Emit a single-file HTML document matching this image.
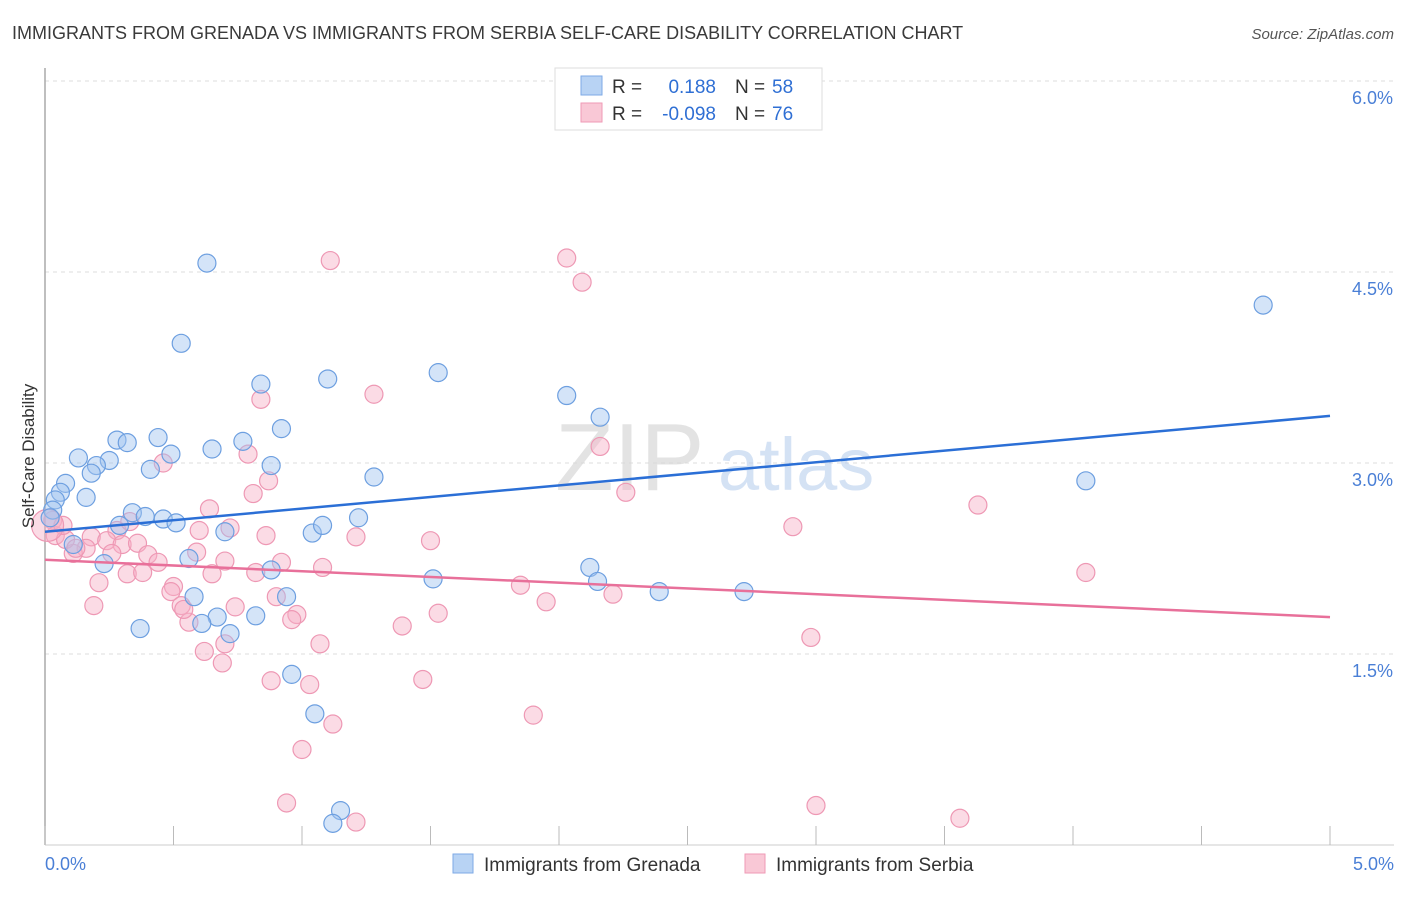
<!DOCTYPE html>
<html><head><meta charset="utf-8"><style>
body{margin:0;background:#fff;font-family:"Liberation Sans",sans-serif;}
svg text{font-family:"Liberation Sans",sans-serif;}
</style></head><body>
<svg id="chart" width="1406" height="892" viewBox="0 0 1406 892" xmlns="http://www.w3.org/2000/svg">
<text x="12" y="39" font-size="18" fill="#3a3a3a">IMMIGRANTS FROM GRENADA VS IMMIGRANTS FROM SERBIA SELF-CARE DISABILITY CORRELATION CHART</text>
<text x="1394" y="39" font-size="15" fill="#555" font-style="italic" text-anchor="end">Source: ZipAtlas.com</text>
<g id="grid"></g>
<g>
<text x="555" y="490" font-size="96" fill="#d8d8d8" font-family="Liberation Serif, serif" opacity="0.7">ZIP</text>
<text x="718" y="490" font-size="74" fill="#b9cfee" opacity="0.6">atlas</text>
</g>
<line x1="45" y1="68" x2="45" y2="845" stroke="#aaa" stroke-width="1.5"/>
<line x1="45" y1="845" x2="1394" y2="845" stroke="#ccc" stroke-width="1"/>
<g id="ticks"></g>
<g id="pts"></g>
<g id="trends"></g>
<text transform="translate(34,456) rotate(-90)" font-size="17" fill="#333" text-anchor="middle">Self-Care Disability</text>
<text x="45" y="870" font-size="18" fill="#4a7fd6">0.0%</text>
<text x="1394" y="870" font-size="18" fill="#4a7fd6" text-anchor="end">5.0%</text>
<g>
<rect x="555" y="68" width="267" height="62" fill="#fff" stroke="#ddd"/>
<rect x="581" y="76" width="21" height="19" fill="#b8d3f4" stroke="#7eaae6"/>
<rect x="581" y="103" width="21" height="19" fill="#f9c8d6" stroke="#ef9ab6"/>
<text x="612" y="93" font-size="19" fill="#333">R =</text>
<text x="716" y="93" font-size="19" fill="#2f6fd4" text-anchor="end">0.188</text>
<text x="735" y="93" font-size="19" fill="#333">N =</text>
<text x="772" y="93" font-size="19" fill="#2f6fd4">58</text>
<text x="612" y="120" font-size="19" fill="#333">R =</text>
<text x="716" y="120" font-size="19" fill="#2f6fd4" text-anchor="end">-0.098</text>
<text x="735" y="120" font-size="19" fill="#333">N =</text>
<text x="772" y="120" font-size="19" fill="#2f6fd4">76</text>
</g>
<g>
<rect x="453" y="854" width="20" height="19" fill="#b8d3f4" stroke="#7eaae6"/>
<text x="484" y="871" font-size="19" fill="#333">Immigrants from Grenada</text>
<rect x="745" y="854" width="20" height="19" fill="#f9c8d6" stroke="#ef9ab6"/>
<text x="776" y="871" font-size="19" fill="#333">Immigrants from Serbia</text>
</g>
</svg>
<script>
const yTicks=[1.5,3.0,4.5,6.0];
const yTickLabels=["1.5%","3.0%","4.5%","6.0%"];
const xTicks=[0,0.5,1,1.5,2,2.5,3,3.5,4,4.5,5];
const blueX=[0.63,0.53,0.84,1.10,1.53,2.03,2.16,4.74,4.05,0.28,0.32,0.44,0.49,0.65,0.77,0.92,0.88,1.28,0.13,0.25,0.20,0.18,0.41,0.08,0.06,0.04,0.16,0.03,0.34,0.39,0.46,0.51,0.29,0.70,1.04,1.08,1.22,0.11,0.23,0.56,0.88,2.12,2.15,1.51,2.39,2.72,0.58,0.94,0.67,0.61,0.72,0.82,0.37,0.96,1.05,1.15,1.12,0.02];
const blueY=[4.57,3.94,3.62,3.66,3.71,3.53,3.36,4.24,2.86,3.18,3.16,3.20,3.07,3.11,3.17,3.27,2.98,2.89,3.04,3.02,2.98,2.92,2.95,2.84,2.77,2.71,2.73,2.63,2.61,2.58,2.56,2.53,2.51,2.46,2.45,2.51,2.57,2.36,2.21,2.25,2.16,2.18,2.07,2.09,1.99,1.99,1.95,1.95,1.79,1.74,1.66,1.80,1.70,1.34,1.03,0.27,0.17,2.57];
const pinkX=[1.11,2.03,2.09,1.28,0.84,2.16,0.79,0.46,0.87,0.81,2.26,3.63,0.64,0.72,2.91,1.21,1.50,0.28,0.18,0.24,0.16,0.11,0.30,0.36,0.40,0.44,0.26,0.59,0.70,0.92,1.08,0.65,0.32,0.38,0.82,0.21,0.50,0.49,1.85,4.05,2.21,1.95,0.90,0.53,0.74,0.19,0.98,1.53,0.96,0.56,1.39,1.07,0.70,0.62,0.69,0.88,1.03,1.47,1.12,1.90,1.00,2.98,0.94,1.21,3.00,3.56,0.03,0.04,0.08,0.12,0.60,0.54,0.33,0.07,0.01,0.86];
const pinkY=[4.59,4.61,4.42,3.54,3.50,3.13,3.07,3.00,2.86,2.76,2.77,2.67,2.64,2.49,2.50,2.42,2.39,2.47,2.42,2.39,2.33,2.29,2.36,2.37,2.28,2.22,2.29,2.30,2.23,2.22,2.18,2.13,2.13,2.14,2.14,2.06,2.03,1.99,2.04,2.14,1.97,1.91,1.95,1.88,1.87,1.88,1.81,1.82,1.77,1.75,1.72,1.58,1.58,1.52,1.43,1.29,1.26,1.30,0.95,1.02,0.75,1.63,0.33,0.18,0.31,0.21,2.55,2.43,2.40,2.33,2.47,1.85,2.54,2.51,2.51,2.43];
const blueTrend=[2.46,3.37];
const pinkTrend=[2.24,1.79];
const NS="http://www.w3.org/2000/svg";
function xs(v){return 45+v/5*1285;}
function ys(v){return 845-v*127.33;}
function mk(tag,attrs,parent){const e=document.createElementNS(NS,tag);for(const k in attrs)e.setAttribute(k,attrs[k]);parent.appendChild(e);return e;}
const grid=document.getElementById('grid');
yTicks.forEach((t,i)=>{
  const l=mk('line',{x1:45,x2:1394,y1:ys(t),y2:ys(t),stroke:'#ddd','stroke-dasharray':'4,4'},grid);
  
  
  const tx=mk('text',{x:1393,y:ys(t)+23,'font-size':18,fill:'#4a7fd6','text-anchor':'end'},grid);
  tx.textContent=yTickLabels[i];
  
  
});
const ticks=document.getElementById('ticks');
xTicks.forEach(t=>{
  const l=mk('line',{x1:xs(t),x2:xs(t),y1:826,y2:845,stroke:'#bbb'},ticks);
  
  
});
const pts=document.getElementById('pts');
pinkX.forEach((x,i)=>{
  const c=mk('circle',{cx:xs(x),cy:ys(pinkY[i]),r:(i===74?16:9),fill:'rgba(246,176,198,0.45)',stroke:'#ee98b4','stroke-width':1.2},pts);
  
  
});
blueX.forEach((x,i)=>{
  const c=mk('circle',{cx:xs(x),cy:ys(blueY[i]),r:9,fill:'rgba(160,196,240,0.45)',stroke:'#6d9fe0','stroke-width':1.2},pts);
  
  
});
const tr=document.getElementById('trends');
const bl=mk('line',{x1:xs(0),x2:xs(5),y1:ys(blueTrend[0]),y2:ys(blueTrend[1]),stroke:'#2b6fd6','stroke-width':2.5},tr);


const pl=mk('line',{x1:xs(0),x2:xs(5),y1:ys(pinkTrend[0]),y2:ys(pinkTrend[1]),stroke:'#e8709a','stroke-width':2.5},tr);


</script>
</body></html>
